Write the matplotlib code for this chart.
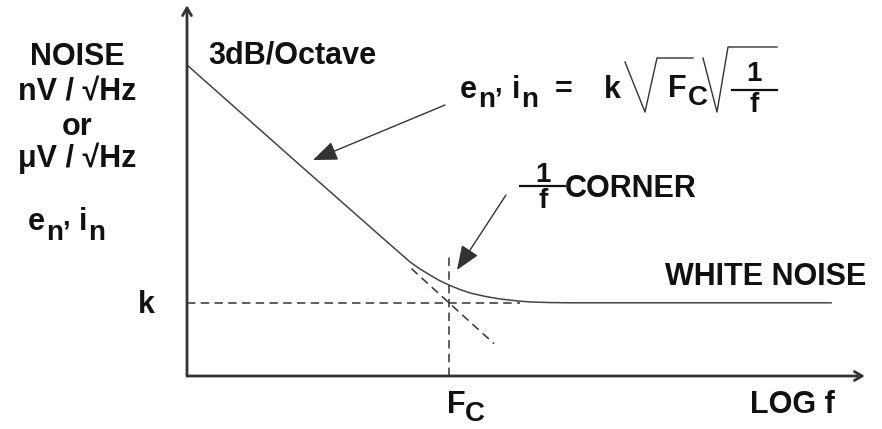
import matplotlib
matplotlib.use('Agg')
import matplotlib.pyplot as plt
from matplotlib.lines import Line2D

W, H = 882, 429

# noise density vs log frequency (decades)
log_f = [0.0, 1.71, 3.0, 3.38, 3.53, 3.68, 3.82, 3.97, 4.13, 4.29, 4.52, 4.74, 5.0, 5.2, 5.5, 5.8, 9.77]
noise = [2.592, 1.758, 1.133, 0.950, 0.892, 0.842, 0.797, 0.758, 0.722, 0.692, 0.663, 0.642, 0.626, 0.617, 0.612, 0.610, 0.610]

# 1/f asymptote continued past the corner
asym_f = [3.4, 4.65]
asym_noise = [0.895, 0.27]

k_level = 0.61
f_corner = 3.97
k_line_end = 5.04
fc_line_top = 1.025
x_axis_end = 10.27
y_axis_end = 3.09

INK = '#111111'
LINE = '#333333'
FONT = 'Liberation Sans'

fig = plt.figure(figsize=(8.82, 4.29), dpi=100)
ax = fig.add_axes([0, 0, 1, 1])
ax.set_xlim(-187 / 66, 695 / 66)
ax.set_ylim(-53 / 120, 376 / 120)
ax.axis('off')

# axes with arrow heads
axis_arrow = dict(arrowstyle='->,head_length=0.55,head_width=0.32', lw=2.0,
                  color=LINE, shrinkA=0, shrinkB=0)
ax.annotate('', xy=(x_axis_end, 0), xytext=(0, 0), arrowprops=axis_arrow)
ax.annotate('', xy=(0, y_axis_end), xytext=(0, 0), arrowprops=axis_arrow)

# noise curve and construction lines
ax.plot(log_f, noise, color='#444444', lw=1.1, solid_capstyle='butt')
dash = dict(color=LINE, lw=1.1, dashes=(5.5, 3.5))
ax.plot(asym_f, asym_noise, **dash)
ax.plot([0, k_line_end], [k_level, k_level], **dash)
ax.plot([f_corner, f_corner], [0, fc_line_top], **dash)


def put(x, y, s, size=22, ha='left'):
    fig.text(x / W, 1 - y / H, s, fontsize=size, ha=ha, va='baseline',
             fontweight='bold', family=FONT, color=INK)


def seg(points, lw=1.0, color=LINE):
    xs = [p[0] / W for p in points]
    ys = [1 - p[1] / H for p in points]
    fig.add_artist(Line2D(xs, ys, transform=fig.transFigure, lw=lw, color=color))


# y-axis label block
put(77, 65, 'NOISE', ha='center')
put(77, 100, 'nV / \u221aHz', ha='center')
put(77, 135, 'or', ha='center')
put(77, 167, '\u03bcV / \u221aHz', ha='center')
put(28, 230, 'e')
put(46, 240, 'n\u2019', size=20)
put(79, 230, 'i')
put(88, 240, 'n', size=20)
put(138, 313, 'k')

# x-axis labels
put(447, 413, 'F')
put(465, 421, 'C', size=20)
put(750, 413, 'LOG f')

put(208, 63, '3dB/Octave')
put(665, 285, 'WHITE NOISE')

# formula e_n, i_n = k sqrt(Fc) sqrt(1/f)
put(460, 98, 'e')
put(478, 107, 'n\u2019', size=20)
put(512, 98, 'i')
put(521, 107, 'n', size=20)
put(555, 98, '=')
put(604, 98, 'k')
seg([(625, 62), (645, 112), (657, 58), (693, 58)])
put(668, 97, 'F')
put(688, 105, 'C', size=20)
seg([(703, 58), (717, 112), (728, 47), (777, 47)])
put(754, 81, '1', size=20, ha='center')
seg([(732, 90), (777, 90)], lw=1.6, color=INK)
put(754, 112, 'f', size=20, ha='center')

# 1/f CORNER
put(543, 182, '1', size=20, ha='center')
seg([(520, 186), (565, 186)], lw=1.6, color=INK)
put(543, 208, 'f', size=20, ha='center')
put(565, 197, 'CORNER')

# pointer arrows
pointer = dict(arrowstyle='-|>,head_length=0.75,head_width=0.3', lw=1.0,
               color=LINE, shrinkA=0, shrinkB=0, mutation_scale=20)
ax.annotate('', xy=(313, H - 160), xytext=(445, H - 105),
            xycoords='figure pixels', textcoords='figure pixels', arrowprops=pointer)
ax.annotate('', xy=(457, H - 270), xytext=(506, H - 195),
            xycoords='figure pixels', textcoords='figure pixels', arrowprops=pointer)

fig.savefig('out.png', dpi=100, facecolor='white')
